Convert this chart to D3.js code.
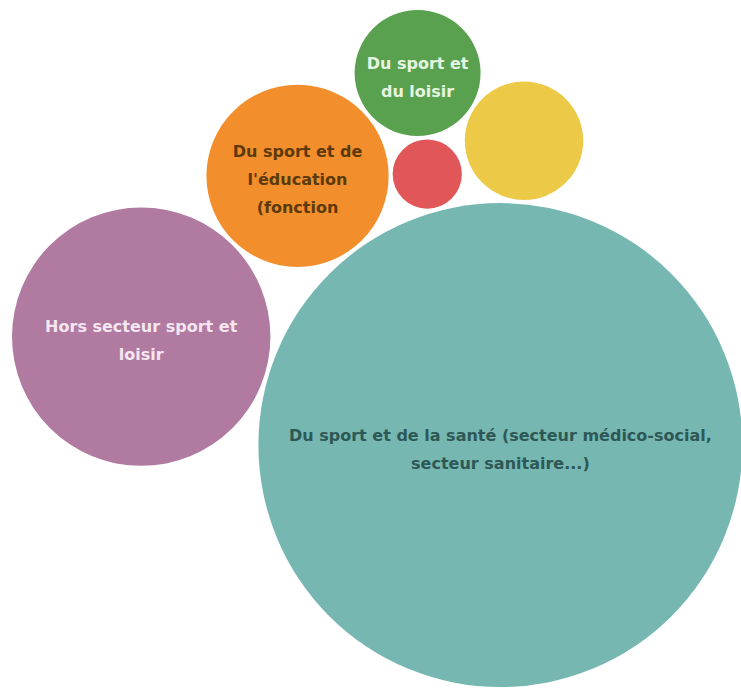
<!DOCTYPE html>
<html>
<head>
<meta http-equiv="Content-Type" content="text/html;charset=utf-8">
<script src="https://d3js.org/d3.v7.min.js"></script>
<style>
  body { margin: 0; background: #fff; }
</style>
</head>
<body>
<svg id="chart" width="741" height="688"></svg>
<script type="text/javascript">

var categories = [
  "Du sport et de l'éducation (fonction",
  "Du sport et de la santé (secteur médico-social, secteur sanitaire...)",
  "Hors secteur sport et loisir",
  "",
  "Du sport et du loisir",
  ""
];
// share of answers (%)
var values = [9.0, 63.5, 18.1, 1.3, 4.3, 3.8];
// each bubble after the first two leans on two earlier ones, on one side
var leansOn = [null, null, [0, 1, 1], [0, 1, -1], [0, 3, -1], [4, 1, -1]];

var fills = ["#f28e2b", "#76b7b2", "#b07aa1", "#e15759", "#59a14f", "#edc948"];
var textFills = ["#5c3a0c", "#2e5855", "#f5e6f1", "#fff", "#e6f5e1", "#333"];

var maxR = 242, pad = 2, angle = 53;
var marginLeft = 12, marginTop = 10;
var fontSize = 16, lineH = 28;

var r = d3.scaleSqrt().domain([0, d3.max(values)]).range([0, maxR]);

var nodes = values.map(function(v, i) { return {i: i, r: r(v), x: 0, y: 0}; });

// first two side by side, the rest tangent to the two they lean on
var a0 = angle * Math.PI / 180;
nodes[1].x = (nodes[0].r + nodes[1].r + 2 * pad) * Math.cos(a0);
nodes[1].y = (nodes[0].r + nodes[1].r + 2 * pad) * Math.sin(a0);
nodes.forEach(function(c, i) {
  if (!leansOn[i]) return;
  var a = nodes[leansOn[i][0]], b = nodes[leansOn[i][1]], s = leansOn[i][2];
  var dx = b.x - a.x, dy = b.y - a.y, d = Math.sqrt(dx * dx + dy * dy);
  var ac = a.r + c.r + 2 * pad, bc = b.r + c.r + 2 * pad;
  var t = Math.acos(Math.max(-1, Math.min(1, (ac * ac + d * d - bc * bc) / (2 * ac * d))));
  var base = Math.atan2(dy, dx) + s * t;
  c.x = a.x + ac * Math.cos(base);
  c.y = a.y + ac * Math.sin(base);
});

var x0 = d3.min(nodes, function(n) { return n.x - n.r; });
var y0 = d3.min(nodes, function(n) { return n.y - n.r; });

var svg = d3.select("#chart");
var g = svg.append("g").attr("transform", "translate(" + (marginLeft - x0) + "," + (marginTop - y0) + ")");

var node = g.selectAll("g.bubble")
  .data(nodes)
  .join("g")
  .attr("class", "bubble")
  .attr("transform", function(d) { return "translate(" + d.x + "," + d.y + ")"; });

node.append("circle")
  .attr("r", function(d) { return d.r; })
  .style("fill", function(d) { return fills[d.i]; });

// wrap labels to fit inside each circle
node.each(function(d) {
  var label = categories[d.i];
  if (!label) return;
  var text = d3.select(this).append("text")
    .attr("text-anchor", "middle")
    .style("font-family", "'DejaVu Sans', sans-serif")
    .style("font-size", fontSize + "px")
    .style("font-weight", 600)
    .style("fill", textFills[d.i]);
  var maxW = d.r * 2 * 0.9;
  var words = label.split(" "), lines = [], line = [];
  var probe = text.append("tspan");
  words.forEach(function(w) {
    line.push(w);
    probe.text(line.join(" "));
    if (probe.node().getComputedTextLength() > maxW && line.length > 1) {
      line.pop();
      lines.push(line.join(" "));
      line = [w];
    }
  });
  lines.push(line.join(" "));
  probe.remove();
  var off = -(lines.length - 1) / 2 * lineH + fontSize * 0.35 + 4;
  text.selectAll("tspan")
    .data(lines)
    .join("tspan")
    .attr("x", 0)
    .attr("y", function(l, k) { return off + k * lineH; })
    .text(function(l) { return l; });
});

</script>
</body>
</html>
